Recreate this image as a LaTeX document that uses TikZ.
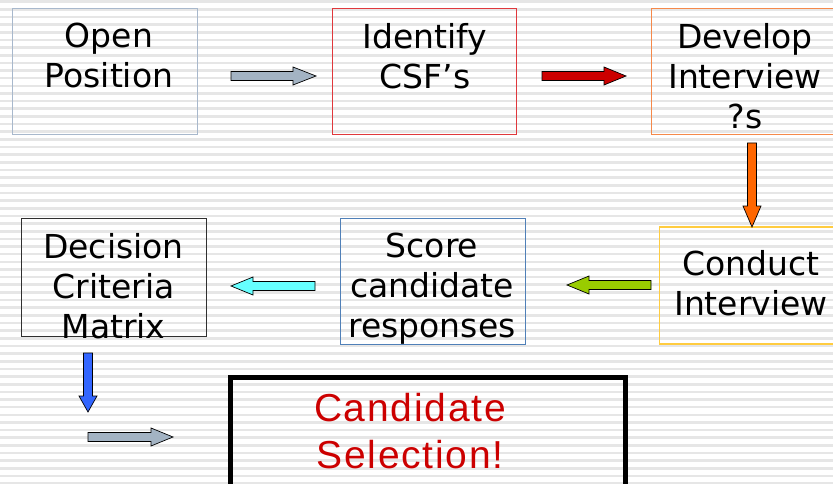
\documentclass[tikz,border=0pt]{standalone}
\usepackage{fontspec}
\setmainfont{DejaVu Sans}
\newfontfamily\candfont[LetterSpace=4.5]{Liberation Sans}
\definecolor{stripeC}{HTML}{E6E6E6}
\definecolor{openC}{HTML}{A8B8CC}
\definecolor{identC}{HTML}{E0383C}
\definecolor{devC}{HTML}{F5894A}
\definecolor{condC}{HTML}{FFCC40}
\definecolor{scoreC}{HTML}{5080B8}
\definecolor{decC}{HTML}{303030}
\definecolor{grayA}{HTML}{A3B3C3}
\definecolor{redA}{HTML}{CC0000}
\definecolor{orangeA}{HTML}{FF6600}
\definecolor{greenA}{HTML}{99CC00}
\definecolor{cyanA}{HTML}{66FFFF}
\definecolor{blueA}{HTML}{3366FF}
\definecolor{candC}{HTML}{CC0000}
% block arrow: color, x, y, angle, length, head length
\newcommand\blockarr[6]{%
  \filldraw[fill=#1,draw=black,line width=0.7pt,line join=miter,shift={(#2,#3)},rotate=#4]
    (0,-4.5) -- ({#5-#6},-4.5) -- ({#5-#6},-9) -- (#5,0) -- ({#5-#6},9) -- ({#5-#6},4.5) -- (0,4.5) -- cycle;}
\begin{document}
\begin{tikzpicture}[x=1pt,y=-1pt,
  box/.style={draw,line width=1.3pt,inner sep=0,rectangle},
  txt/.style={anchor=north,align=center,inner sep=0,font=\fontsize{33}{40}\selectfont}]
\useasboundingbox (0,0) rectangle (833,484);
\fill[white] (0,0) rectangle (833,484);
\foreach \i in {0,...,63} \fill[stripeC] (0,{0.4+\i*7.65}) rectangle (833,{3.0+\i*7.65});
% boxes
\node[box,draw=openC,minimum width=185,minimum height=126] (open) at (105,71.5) {};
\node[box,draw=identC,minimum width=184,minimum height=126] (ident) at (424.5,71.5) {};
\node[box,draw=devC,minimum width=200,minimum height=126] (dev) at (751.5,71.5) {};
\node[box,draw=condC,minimum width=200,minimum height=117] (cond) at (759.5,285.5) {};
\node[box,draw=scoreC,minimum width=185,minimum height=126] (score) at (433,281.5) {};
\node[box,draw=decC,minimum width=185,minimum height=118] (dec) at (114,277.5) {};
\node[box,draw=black,line width=5pt,minimum width=395,minimum height=130] (cand) at (428,442.5) {};
% texts
\node[txt] (openT) at (109,23) {Open\\Position};
\node[txt] (identT) at (425,23) {Identify\\CSF’s};
\node[txt] (devT) at (745,23) {Develop\\Interview\\?s};
\node[txt] (condT) at (751,250) {Conduct\\Interview};
\node[txt] (scoreT) at (432,233) {Score\\candidate\\responses};
\node[txt] (decT) at (113.5,233) {Decision\\Criteria\\Matrix};
\node[anchor=north,align=center,inner sep=0,text=candC,font=\candfont\fontsize{39}{47}\selectfont] (candT) at (410,393) {Candidate\\Selection!};
% arrows
\blockarr{grayA}{231}{76}{0}{85}{23}
\blockarr{redA}{542}{76}{0}{84}{22}
\blockarr{orangeA}{752}{143}{-90}{84}{21}
\blockarr{greenA}{651}{285}{180}{84}{22}
\blockarr{cyanA}{315}{286}{180}{84}{22}
\blockarr{blueA}{88}{353}{-90}{59}{16}
\blockarr{grayA}{88}{437}{0}{85}{22}
\end{tikzpicture}
\end{document}
